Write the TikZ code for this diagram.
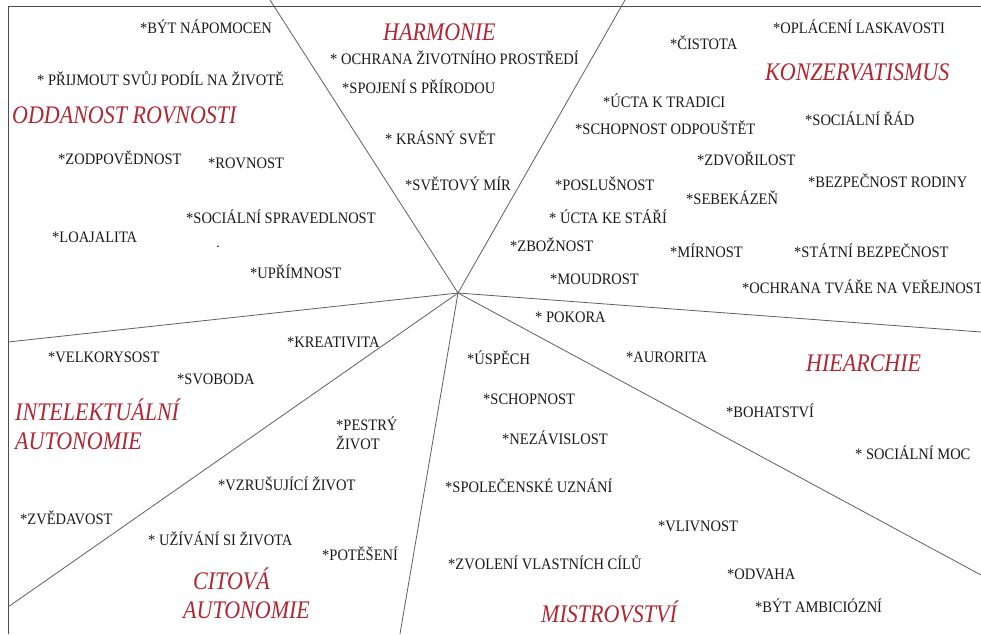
\documentclass[tikz,border=0pt]{standalone}
\usepackage{fontspec}
\usepackage{graphicx}
\setmainfont{Liberation Serif}
\definecolor{headred}{RGB}{178,38,50}
\definecolor{linegray}{RGB}{95,95,95}
\definecolor{txt}{RGB}{25,25,25}
\newcommand{\vs}[1]{\scalebox{1}[1.1]{#1}}
\newcommand{\vh}[1]{\scalebox{1}[1.15]{#1}}
\begin{document}
\begin{tikzpicture}[x=1pt,y=-1pt,
  item/.style={anchor=base west,inner sep=0pt,text=txt,font=\fontsize{14.5}{16}\selectfont},
  head/.style={anchor=base west,inner sep=0pt,text=headred,font=\fontsize{22}{25}\selectfont\itshape},
  sector/.style={draw=linegray,line width=0.8pt},
  frame/.style={draw=linegray!80!black,line width=1pt}]
\useasboundingbox (0,0) rectangle (981,634);
\clip (0,0) rectangle (981,634);
\fill[white] (0,0) rectangle (981,634);
% frame
\coordinate (f1) at (8,634);
\coordinate (f2) at (8,7);
\coordinate (f3) at (981,7);
\draw[frame] (f1) -- (f2) -- (f3);
% sector lines
\coordinate (c) at (458,293);
\coordinate (e1) at (270,0);
\coordinate (e2) at (625,0);
\coordinate (e3) at (981,332);
\coordinate (e4) at (981,575);
\coordinate (e5) at (400,634);
\coordinate (e6) at (8,607);
\coordinate (e7) at (8,342);
\foreach \e in {e1,e2,e3,e4,e5,e6,e7} \draw[sector] (c) -- (\e);
% ODDANOST ROVNOSTI
\node[head] (hOdd) at (12,123) {\vh{ODDANOST ROVNOSTI}};
\node[item] (iBytNap) at (140,34) {\vs{*BÝT NÁPOMOCEN}};
\node[item] (iPrij) at (37,85) {\vs{* PŘIJMOUT SVŮJ PODÍL NA ŽIVOTĚ}};
\node[item] (iZodp) at (58,164) {\vs{*ZODPOVĚDNOST}};
\node[item] (iRovn) at (208,168) {\vs{*ROVNOST}};
\node[item] (iSocSpr) at (186,223) {\vs{*SOCIÁLNÍ SPRAVEDLNOST}};
\node[item] (iDot) at (216,247) {.};
\node[item] (iLoaj) at (52,242) {\vs{*LOAJALITA}};
\node[item] (iUprim) at (250,278) {\vs{*UPŘÍMNOST}};
% HARMONIE
\node[head] (hHarm) at (383,41) {\vh{HARMONIE}};
\node[item] (iOchrZP) at (330,64) {\vs{* OCHRANA ŽIVOTNÍHO PROSTŘEDÍ}};
\node[item] (iSpoj) at (342,93) {\vs{*SPOJENÍ S PŘÍRODOU}};
\node[item] (iKras) at (385,144) {\vs{* KRÁSNÝ SVĚT}};
\node[item] (iSvMir) at (405,190) {\vs{*SVĚTOVÝ MÍR}};
% KONZERVATISMUS
\node[head] (hKonz) at (765,80) {\vh{KONZERVATISMUS}};
\node[item] (iCist) at (670,49) {\vs{*ČISTOTA}};
\node[item] (iOplac) at (773,34) {\vs{*OPLÁCENÍ LASKAVOSTI}};
\node[item] (iUctaTr) at (603,107) {\vs{*ÚCTA K TRADICI}};
\node[item] (iSchOdp) at (575,134) {\vs{*SCHOPNOST ODPOUŠTĚT}};
\node[item] (iSocRad) at (805,125) {\vs{*SOCIÁLNÍ ŘÁD}};
\node[item] (iZdvor) at (697,165) {\vs{*ZDVOŘILOST}};
\node[item] (iPosl) at (555,190) {\vs{*POSLUŠNOST}};
\node[item] (iBezRod) at (808,187) {\vs{*BEZPEČNOST RODINY}};
\node[item] (iSebek) at (686,204) {\vs{*SEBEKÁZEŇ}};
\node[item] (iUctaSt) at (549,223) {\vs{* ÚCTA KE STÁŘÍ}};
\node[item] (iZboz) at (510,251) {\vs{*ZBOŽNOST}};
\node[item] (iMirn) at (670,257) {\vs{*MÍRNOST}};
\node[item] (iStBez) at (794,257) {\vs{*STÁTNÍ BEZPEČNOST}};
\node[item] (iMoudr) at (550,284) {\vs{*MOUDROST}};
\node[item] (iOchrTv) at (742,293) {\vs{*OCHRANA TVÁŘE NA VEŘEJNOSTI}};
% HIEARCHIE
\node[head] (hHier) at (806,371) {\vh{HIEARCHIE}};
\node[item] (iPokora) at (535,322) {\vs{* POKORA}};
\node[item] (iAuror) at (626,362) {\vs{*AURORITA}};
\node[item] (iBohat) at (726,417) {\vs{*BOHATSTVÍ}};
\node[item] (iSocMoc) at (855,459) {\vs{* SOCIÁLNÍ MOC}};
% MISTROVSTVI
\node[head] (hMistr) at (541,622) {\vh{MISTROVSTVÍ}};
\node[item] (iUspech) at (467,364) {\vs{*ÚSPĚCH}};
\node[item] (iSchop) at (483,404) {\vs{*SCHOPNOST}};
\node[item] (iNezav) at (502,444) {\vs{*NEZÁVISLOST}};
\node[item] (iSpolUzn) at (445,492) {\vs{*SPOLEČENSKÉ UZNÁNÍ}};
\node[item] (iVliv) at (658,531) {\vs{*VLIVNOST}};
\node[item] (iZvol) at (448,569) {\vs{*ZVOLENÍ VLASTNÍCH CÍLŮ}};
\node[item] (iOdvaha) at (727,579) {\vs{*ODVAHA}};
\node[item] (iAmbic) at (755,612) {\vs{*BÝT AMBICIÓZNÍ}};
% CITOVA AUTONOMIE
\node[head] (hCit) at (183,618) {\vh{\begin{tabular}[b]{@{}l@{}}\hspace*{10pt}CITOVÁ\\AUTONOMIE\end{tabular}}};
\node[item] (iPestry) at (336,449) {\vs{\begin{tabular}[b]{@{}l@{}}*PESTRÝ\\ŽIVOT\end{tabular}}};
\node[item] (iVzrus) at (218,490) {\vs{*VZRUŠUJÍCÍ ŽIVOT}};
\node[item] (iUziv) at (148,545) {\vs{* UŽÍVÁNÍ SI ŽIVOTA}};
\node[item] (iPotes) at (322,560) {\vs{*POTĚŠENÍ}};
% INTELEKTUALNI AUTONOMIE
\node[head] (hInt) at (15,449) {\vh{\begin{tabular}[b]{@{}l@{}}INTELEKTUÁLNÍ\\AUTONOMIE\end{tabular}}};
\node[item] (iKreat) at (287,347) {\vs{*KREATIVITA}};
\node[item] (iVelk) at (48,362) {\vs{*VELKORYSOST}};
\node[item] (iSvob) at (177,384) {\vs{*SVOBODA}};
\node[item] (iZved) at (20,524) {\vs{*ZVĚDAVOST}};
\end{tikzpicture}
\end{document}
